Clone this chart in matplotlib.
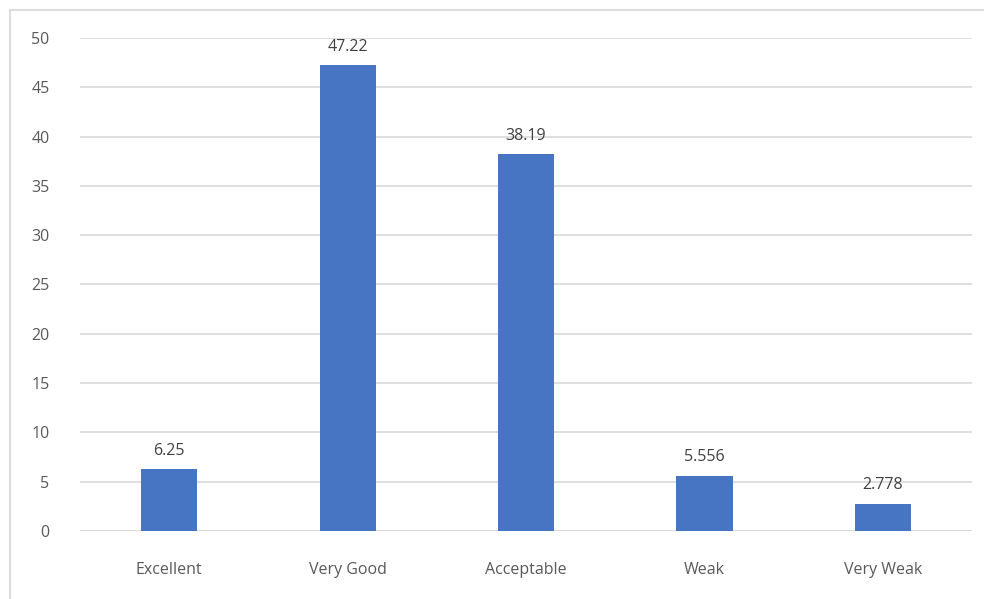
import matplotlib.pyplot as plt
from matplotlib.lines import Line2D

# Data
categories = ["Excellent", "Very Good", "Acceptable", "Weak", "Very Weak"]
values = [6.25, 47.22, 38.19, 5.556, 2.778]
value_labels = ["6.25", "47.22", "38.19", "5.556", "2.778"]
yticks = [0, 5, 10, 15, 20, 25, 30, 35, 40, 45, 50]

plt.rcParams['font.family'] = ['Open Sans', 'DejaVu Sans']
text_color = "#595959"

fig = plt.figure(figsize=(9.84, 5.99), dpi=100)
ax = fig.add_axes([0.0813, 0.1135, 0.9067, 0.8231])

x = range(len(categories))
bars = ax.bar(x, values, width=0.315, color="#4775C4", zorder=3)

for b, lab in zip(bars, value_labels):
    ax.text(b.get_x() + b.get_width() / 2, b.get_height() + 1.1, lab,
            ha="center", va="bottom", fontsize=11.5, color="#404040")

ax.set_xlim(-0.5, len(categories) - 0.5)
ax.set_ylim(0, 50)
ax.set_yticks(yticks)
ax.set_xticks(list(x))
ax.set_xticklabels(categories)
ax.grid(axis="y", color="#D9D9D9", linewidth=1.2, zorder=0)
for s in ax.spines.values():
    s.set_visible(False)
ax.axhline(0, color="#D9D9D9", linewidth=1.2, zorder=1)
ax.tick_params(axis="both", length=0, labelsize=11.5, colors=text_color)
ax.tick_params(axis="x", pad=22)
ax.tick_params(axis="y", pad=22)

# light frame lines (top and left only, as in the cropped reference)
fig.lines.append(Line2D([10 / 984, 1], [1 - 10 / 599, 1 - 10 / 599],
                        transform=fig.transFigure, color="#DDDDDD", linewidth=1.5))
fig.lines.append(Line2D([10 / 984, 10 / 984], [0, 1 - 10 / 599],
                        transform=fig.transFigure, color="#DDDDDD", linewidth=1.5))

fig.savefig("out.png", dpi=100)
